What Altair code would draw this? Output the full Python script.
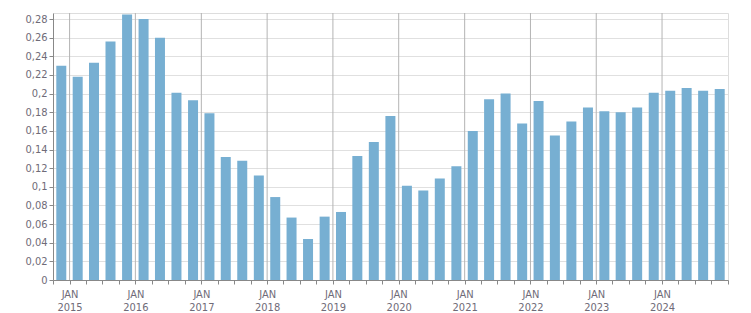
import altair as alt
import pandas as pd

# Quarterly values, Q4 2014 .. Q4 2024
values = [0.230, 0.218, 0.233, 0.256, 0.285, 0.280, 0.260, 0.201, 0.193, 0.179,
          0.132, 0.128, 0.112, 0.089, 0.067, 0.044, 0.068, 0.073, 0.133, 0.148,
          0.176, 0.101, 0.096, 0.109, 0.122, 0.160, 0.194, 0.200, 0.168, 0.192,
          0.155, 0.170, 0.185, 0.181, 0.180, 0.185, 0.201, 0.203, 0.206, 0.203,
          0.205]
quarter_starts = [(2014, 10)] + [(y, m) for y in range(2015, 2025) for m in (1, 4, 7, 10)]
years = list(range(2015, 2025))
y_ticks = [round(i * 0.02, 2) for i in range(15)]


def ms(ts):
    return int(pd.Timestamp(ts, tz="UTC").value // 10**6)


mids = []
for (y, m) in quarter_starts:
    s = pd.Timestamp(year=y, month=m, day=1)
    e = s + pd.DateOffset(months=3)
    mids.append(ms(s + (e - s) / 2))

bars_df = pd.DataFrame({"t": mids, "v": values})
jan_df = pd.DataFrame({"t": [ms(pd.Timestamp(year=y, month=1, day=1)) for y in years]})

tick_vals = [ms(pd.Timestamp(year=y, month=m, day=1)) for (y, m) in quarter_starts] + [ms(pd.Timestamp(2025, 1, 1))]
x_domain = [ms(pd.Timestamp(2014, 10, 1)), ms(pd.Timestamp(2025, 1, 1))]

FONT = "DejaVu Sans Condensed, Liberation Sans, DejaVu Sans"
LABEL = "#6f6b78"

x_scale = alt.Scale(type="utc", domain=x_domain, padding=0)

x_axis = alt.Axis(
    values=tick_vals,
    labelExpr="(utcmonth(datum.value) == 0 && utcyear(datum.value) <= 2024) ? ['JAN', '' + utcyear(datum.value)] : ''",
    labelOverlap=False,
    labelAlign="center",
    labelBaseline="top",
    labelPadding=4,
    labelLineHeight=13,
    labelFont=FONT,
    labelFontSize=11,
    labelColor=LABEL,
    tickSize=4,
    tickColor="#888888",
    domainColor="#888888",
    grid=False,
    title=None,
)

rules = alt.Chart(jan_df).mark_rule(color="#b4b4b4", strokeWidth=1).encode(
    x=alt.X("t:T", scale=x_scale, axis=x_axis)
)

bars = alt.Chart(bars_df).mark_bar(size=10, color="#77afd2").encode(
    x=alt.X("t:T", scale=x_scale, axis=x_axis),
    y=alt.Y(
        "v:Q",
        scale=alt.Scale(domain=[0, 0.2865], nice=False, zero=True),
        axis=alt.Axis(
            values=y_ticks,
            labelExpr="replace(format(datum.value, '.2~f'), '.', ',')",
            labelFont=FONT,
            labelFontSize=11,
            labelColor=LABEL,
            labelPadding=2,
            tickSize=4,
            tickColor="#888888",
            domainColor="#888888",
            gridColor="#e0e0e0",
            title=None,
        ),
    ),
)

chart = (
    alt.layer(rules, bars)
    .properties(
        width=675,
        height=267,
        padding={"left": 53, "top": 13, "right": 23, "bottom": 33},
        autosize="none",
        background="white",
    )
    .configure_view(stroke="#dddddd")
)

chart.save("out.html", embed_options={"renderer": "svg", "actions": False})
